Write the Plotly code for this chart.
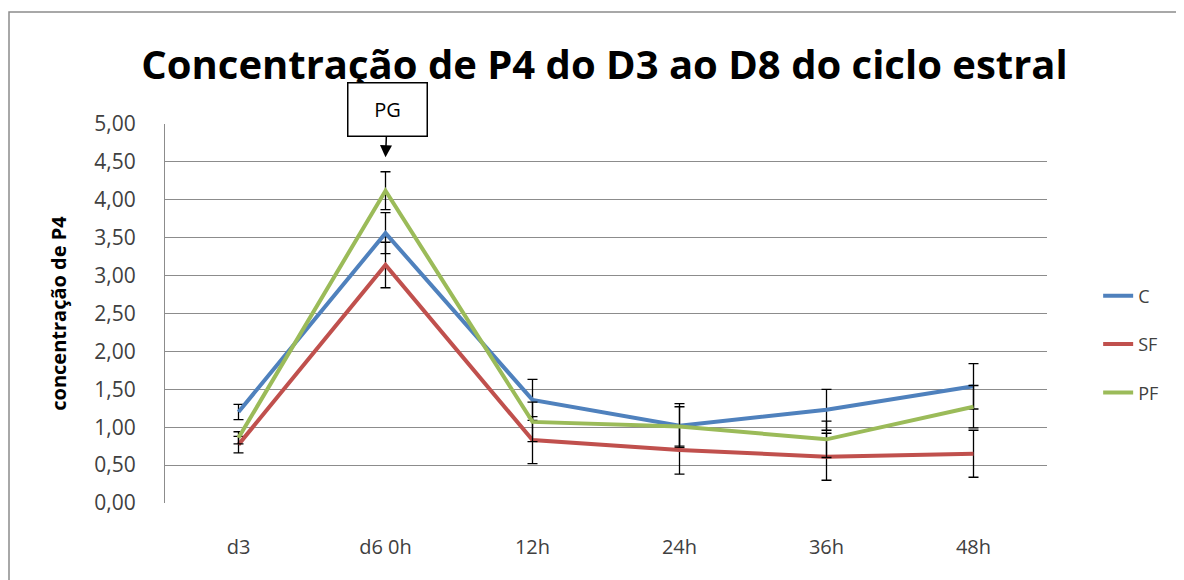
import plotly.graph_objects as go

categories = ["d3", "d6 0h", "12h", "24h", "36h", "48h"]
series_names = ["C", "SF", "PF"]
c_values = [1.20, 3.56, 1.36, 1.02, 1.23, 1.54]
c_errors = [0.10, 0.27, 0.27, 0.29, 0.27, 0.30]
sf_values = [0.77, 3.14, 0.83, 0.70, 0.61, 0.65]
sf_errors = [0.11, 0.30, 0.31, 0.32, 0.31, 0.31]
pf_values = [0.86, 4.12, 1.07, 1.01, 0.84, 1.27]
pf_errors = [0.08, 0.25, 0.26, 0.26, 0.24, 0.28]
y_ticks = [0, 0.5, 1.0, 1.5, 2.0, 2.5, 3.0, 3.5, 4.0, 4.5, 5.0]
y_tick_labels = [f"{v:.2f}".replace(".", ",") for v in y_ticks]

colors = ["#4F81BD", "#C0504D", "#9BBB59"]
values = [c_values, sf_values, pf_values]
errors = [c_errors, sf_errors, pf_errors]

FONT = "Open Sans"
fig = go.Figure()
for name, vals, errs, col in zip(series_names, values, errors, colors):
    fig.add_trace(go.Scatter(
        x=categories, y=vals, name=name, mode="lines",
        legendgroup=name,
        line=dict(color=col, width=4),
        error_y=dict(type="data", array=errs, visible=True,
                     color="black", thickness=1.3, width=5),
    ))

W, H = 1176, 572
L, T, PW, PH = 157, 116, 882, 379
fig.update_layout(
    width=W, height=H,
    paper_bgcolor="white", plot_bgcolor="white",
    margin=dict(l=L, r=W - L - PW, t=T, b=H - T - PH),
    font=dict(family=FONT, color="#404040"),
    title=dict(text="<b>Concentração de P4 do D3 ao D8 do ciclo estral</b>",
               font=dict(family=FONT, size=40, color="black"),
               x=596.5 / W, xanchor="center", y=1 - 57 / H, yanchor="middle",
               xref="container", yref="container"),
    legend=dict(x=1.058, y=0.595, xanchor="left", yanchor="top",
                font=dict(family=FONT, size=18, color="#404040"),
                tracegroupgap=22, bgcolor="rgba(0,0,0,0)"),
    showlegend=True,
)
fig.update_xaxes(
    type="category", range=[-0.5, 5.5],
    showgrid=False, showline=False, ticks="",
    tickfont=dict(family=FONT, size=20, color="#404040"),
    ticklabelstandoff=30, zeroline=False,
)
fig.update_yaxes(
    range=[0, 5], tickvals=y_ticks, ticktext=y_tick_labels,
    showgrid=True, gridcolor="#8C8C8C", gridwidth=1,
    showline=True, linecolor="#8C8C8C", linewidth=1,
    ticks="", zeroline=False,
    tickfont=dict(family=FONT, size=21, color="#404040"),
    ticklabelstandoff=24,
    title=dict(text="<b>concentração de P4</b>",
               font=dict(family=FONT, size=20, color="black"), standoff=22),
)

# outer chart border (figure px -> paper coords)
fig.add_shape(type="rect", xref="paper", yref="paper",
              x0=(1 - L) / PW, x1=1.25, y0=-0.3, y1=(T + PH - 4) / PH,
              line=dict(color="#8C8C8C", width=1.5), fillcolor="rgba(0,0,0,0)",
              layer="below")

# PG annotation with arrow
fig.add_annotation(
    x="d6 0h", y=4.56, xref="x", yref="y",
    text="PG", font=dict(family=FONT, size=20, color="black"),
    showarrow=True, ax=2, ay=-48, axref="pixel", ayref="pixel",
    arrowhead=2, arrowsize=1.6, arrowwidth=1.5, arrowcolor="black",
    bordercolor="black", borderwidth=1.5, bgcolor="white",
    width=76, height=50, align="center", valign="middle",
)

fig.write_html("out.html")
